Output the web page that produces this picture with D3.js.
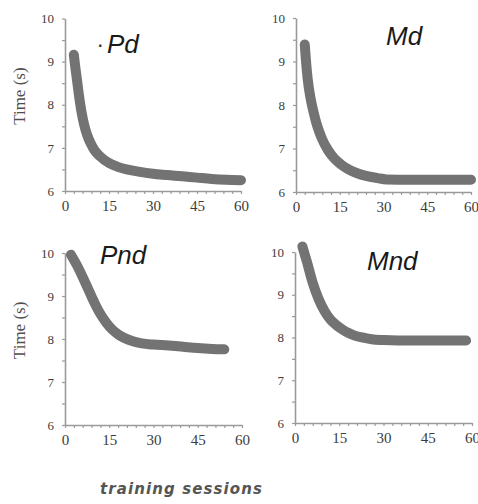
<!DOCTYPE html>
<html>
<head>
<meta charset="utf-8">
<script src="https://cdn.jsdelivr.net/npm/d3@7/dist/d3.min.js"></script>
<style>
  body { margin: 0; background: #fff; }
</style>
</head>
<body>
<svg id="chart" width="478" height="504"></svg>
<script>
// values (session -> time in s)
var pdSessions  = [3, 3.5, 4, 5, 6, 7, 8, 9, 10, 12, 15, 18, 21, 25, 30, 35, 40, 45, 50, 55, 60];
var pdTimes     = [9.16, 8.88, 8.62, 8.10, 7.70, 7.42, 7.22, 7.07, 6.95, 6.80, 6.65, 6.56, 6.50, 6.45, 6.40, 6.37, 6.34, 6.31, 6.28, 6.26, 6.25];

var mdSessions  = [3, 3.5, 4, 5, 6, 7, 8, 9, 11, 13, 15.5, 18, 21, 24, 28, 31, 40, 50, 60];
var mdTimes     = [9.39, 8.95, 8.60, 8.15, 7.84, 7.58, 7.38, 7.21, 6.96, 6.78, 6.63, 6.52, 6.43, 6.37, 6.32, 6.29, 6.28, 6.28, 6.28];

var pndSessions = [2, 4, 6, 8, 10, 12, 14, 16, 18, 20, 23, 26, 30, 35, 40, 45, 50, 54];
var pndTimes    = [9.96, 9.72, 9.44, 9.14, 8.84, 8.58, 8.38, 8.22, 8.11, 8.03, 7.95, 7.90, 7.87, 7.85, 7.82, 7.79, 7.77, 7.76];

var mndSessions = [2.5, 4, 6, 8, 10, 12, 14, 16, 18, 20, 23, 26, 30, 35, 45, 58];
var mndTimes    = [10.13, 9.78, 9.28, 8.90, 8.62, 8.42, 8.29, 8.19, 8.11, 8.05, 8.00, 7.96, 7.94, 7.93, 7.93, 7.93];

var panelNames  = ["Pd", "Md", "Pnd", "Mnd"];
var xTicks = d3.range(0, 61, 3);
var yTicks = d3.range(6, 10.01, 0.5);

var svg = d3.select("#chart");

// layout of the four small plots
var panels = [
    { name: panelNames[0], s: pdSessions,  t: pdTimes,  left: 65,  top: 18.5, w: 176, h: 172.5, tx: 107, ty: 53, dot: true, ylab: true },
    { name: panelNames[1], s: mdSessions,  t: mdTimes,  left: 296, top: 18,   w: 175, h: 174,   tx: 386, ty: 45, ylab: false },
    { name: panelNames[2], s: pndSessions, t: pndTimes, left: 65,  top: 253,  w: 177, h: 172,   tx: 100, ty: 264, ylab: true },
    { name: panelNames[3], s: mndSessions, t: mndTimes, left: 295, top: 252,  w: 177, h: 171,   tx: 367, ty: 270, ylab: false }
];

panels.forEach(function (p) {
    var xScale = d3.scaleLinear().domain([0, 60]).range([p.left, p.left + p.w]);
    var yScale = d3.scaleLinear().domain([6, 10]).range([p.top + p.h, p.top]);

    var gx = svg.append("g")
        .attr("transform", "translate(0," + (p.top + p.h) + ")")
        .call(d3.axisBottom(xScale)
            .tickValues(xTicks)
            .tickSize(3)
            .tickSizeOuter(0)
            .tickPadding(6)
            .tickFormat(function (d) { return d % 15 == 0 ? d : ""; }));
    gx.selectAll("text")
        .style("font-family", "'Liberation Serif', 'Times New Roman', serif")
        .style("font-size", "15px")
        .style("fill", "#3c3c3c");

    var gy = svg.append("g")
        .attr("transform", "translate(" + p.left + ",0)")
        .call(d3.axisLeft(yScale)
            .tickValues(yTicks)
            .tickSize(3)
            .tickSizeOuter(0)
            .tickPadding(8)
            .tickFormat(function (d) { return d % 1 == 0 ? d : ""; }));
    gy.selectAll("text")
        .style("font-family", "'Liberation Serif', 'Times New Roman', serif")
        .style("font-size", "13px")
        .style("fill", "#3c3c3c");

    svg.selectAll(".domain").attr("stroke", "#9a9a9a").attr("stroke-width", 1.6);
    svg.selectAll(".tick line").attr("stroke", "#9a9a9a").attr("stroke-width", 1.2);

    var pts = p.s.map(function (d, i) { return [d, p.t[i]]; });
    var line = d3.line()
        .x(function (d) { return xScale(d[0]); })
        .y(function (d) { return yScale(d[1]); })
        .curve(d3.curveMonotoneX);

    svg.append("path")
        .datum(pts)
        .attr("d", line)
        .attr("fill", "none")
        .attr("stroke", "#737373")
        .attr("stroke-width", 10)
        .attr("stroke-linecap", "round")
        .attr("stroke-linejoin", "round");

    svg.append("text")
        .attr("x", p.tx)
        .attr("y", p.ty)
        .style("font-family", "'Liberation Sans', Arial, sans-serif")
        .style("font-style", "italic")
        .style("font-size", "26px")
        .style("fill", "#1a1a1a")
        .text(p.name);

    if (p.dot) {
        svg.append("text")
            .attr("x", p.tx - 9)
            .attr("y", p.ty - 2)
            .style("font-family", "'Liberation Sans', Arial, sans-serif")
            .style("font-size", "16px")
            .style("font-weight", "bold")
            .style("fill", "#333")
            .text("·");
    }

    if (p.ylab) {
        svg.append("text")
            .attr("transform", "translate(" + 25 + "," + (p.top + p.h * 0.45) + ") rotate(-90)")
            .attr("text-anchor", "middle")
            .style("font-family", "'Liberation Serif', 'Times New Roman', serif")
            .style("font-size", "17px")
            .style("fill", "#505050")
            .text("Time (s)");
    }
});

svg.append("text")
    .attr("x", 100)
    .attr("y", 494)
    .attr("textLength", 162)
    .style("font-family", "'DejaVu Sans', Verdana, sans-serif")
    .style("font-style", "italic")
    .style("font-weight", "bold")
    .style("font-size", "15px")
    .style("fill", "#555")
    .text("training sessions");
</script>
</body>
</html>
